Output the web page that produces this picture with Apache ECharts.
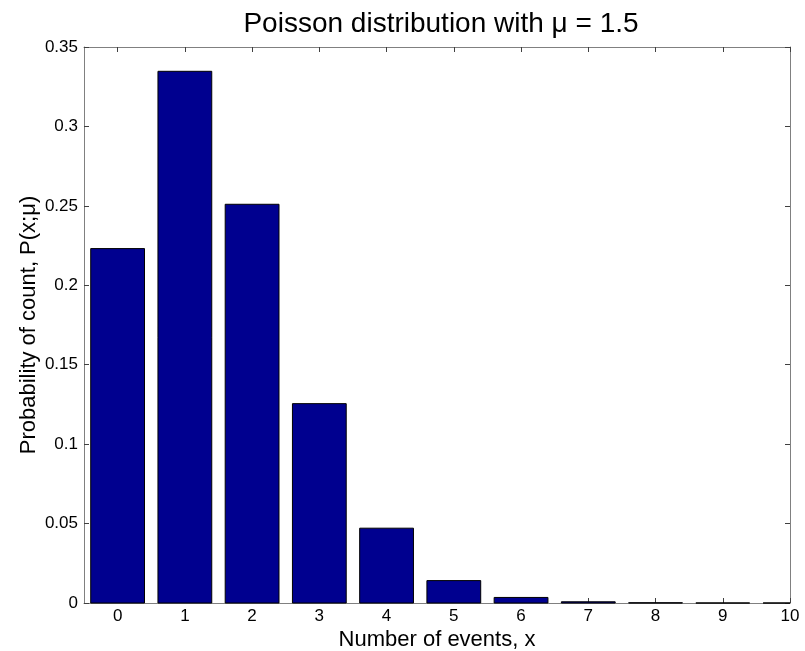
<!DOCTYPE html>
<html><head><meta charset="utf-8">
<script src="https://cdn.jsdelivr.net/npm/echarts@6/dist/echarts.min.js"></script>
<style>html,body{margin:0;padding:0;background:#fff}#c{width:805px;height:651px}</style>
</head><body><div id="c"></div>
<script>
const counts = [0, 1, 2, 3, 4, 5, 6, 7, 8, 9, 10];
const probs = [0.2231, 0.3347, 0.2510, 0.1255, 0.0471, 0.0141, 0.0035, 0.00076, 0.00014, 0.000024, 0.0000036];
const xTicks = [0, 1, 2, 3, 4, 5, 6, 7, 8, 9, 10];

const F = 'Liberation Sans, Arial, sans-serif';
const frame = '#808080';
const tickC = '#404040';
const HALF_BAR = 0.4;
const chart = echarts.init(document.getElementById('c'), null, {renderer: 'canvas'});
chart.setOption({
  animation: false,
  title: {
    text: 'Poisson distribution with \u03bc = 1.5',
    left: 436, top: 5, textAlign: 'center',
    textStyle: {fontFamily: F, fontSize: 28, fontWeight: 'normal', color: '#000'}
  },
  grid: {left: 84, top: 47, right: 15, bottom: 48, outerBoundsMode: 'none', containLabel: false},
  xAxis: [{
    type: 'value', min: -0.5, max: 10, position: 'bottom',
    name: 'Number of events, x', nameLocation: 'middle', nameGap: 26, nameMoveOverlap: false,
    nameTextStyle: {fontFamily: F, fontSize: 22, color: '#000'},
    axisLine: {show: true, onZero: false, lineStyle: {color: frame, width: 1}},
    axisTick: {show: true, inside: true, length: 5, customValues: xTicks, lineStyle: {color: tickC}},
    axisLabel: {customValues: xTicks, fontFamily: F, fontSize: 17, color: '#000', margin: 5},
    splitLine: {show: false}
  }, {
    type: 'value', min: -0.5, max: 10, position: 'top',
    axisLine: {show: true, onZero: false, lineStyle: {color: frame, width: 1}},
    axisTick: {show: true, inside: true, length: 5, customValues: xTicks, lineStyle: {color: tickC}},
    axisLabel: {show: false, customValues: xTicks},
    splitLine: {show: false}
  }],
  yAxis: [{
    type: 'value', min: 0, max: 0.35, interval: 0.05, position: 'left',
    name: 'Probability of count, P(x;\u03bc)', nameLocation: 'middle', nameGap: 44, nameMoveOverlap: false,
    nameTextStyle: {fontFamily: F, fontSize: 22, color: '#000'},
    axisLine: {show: true, onZero: false, lineStyle: {color: frame, width: 1}},
    axisTick: {show: true, inside: true, length: 5, lineStyle: {color: tickC}},
    axisLabel: {fontFamily: F, fontSize: 17, color: '#000', margin: 6},
    splitLine: {show: false}
  }, {
    type: 'value', min: 0, max: 0.35, interval: 0.05, position: 'right',
    axisLine: {show: true, onZero: false, lineStyle: {color: frame, width: 1}},
    axisTick: {show: true, inside: true, length: 5, lineStyle: {color: tickC}},
    axisLabel: {show: false},
    splitLine: {show: false}
  }],
  series: [{
    type: 'custom',
    xAxisIndex: 0, yAxisIndex: 0,
    data: counts.map((c, i) => [c, probs[i]]),
    encode: {x: 0, y: 1},
    renderItem: function (params, api) {
      const x = api.value(0), y = api.value(1);
      const p0 = api.coord([x - HALF_BAR, y]);
      const p1 = api.coord([x + HALF_BAR, 0]);
      const cs = params.coordSys;
      const rect = echarts.graphic.clipRectByRect(
        {x: p0[0], y: p0[1], width: p1[0] - p0[0], height: p1[1] - p0[1]},
        {x: cs.x, y: cs.y, width: cs.width, height: cs.height}
      );
      if (!rect) return null;
      return {
        type: 'rect',
        shape: rect,
        style: {fill: '#00008F', stroke: '#000', lineWidth: 1}
      };
    },
    z: 1
  }]
});
</script></body></html>
